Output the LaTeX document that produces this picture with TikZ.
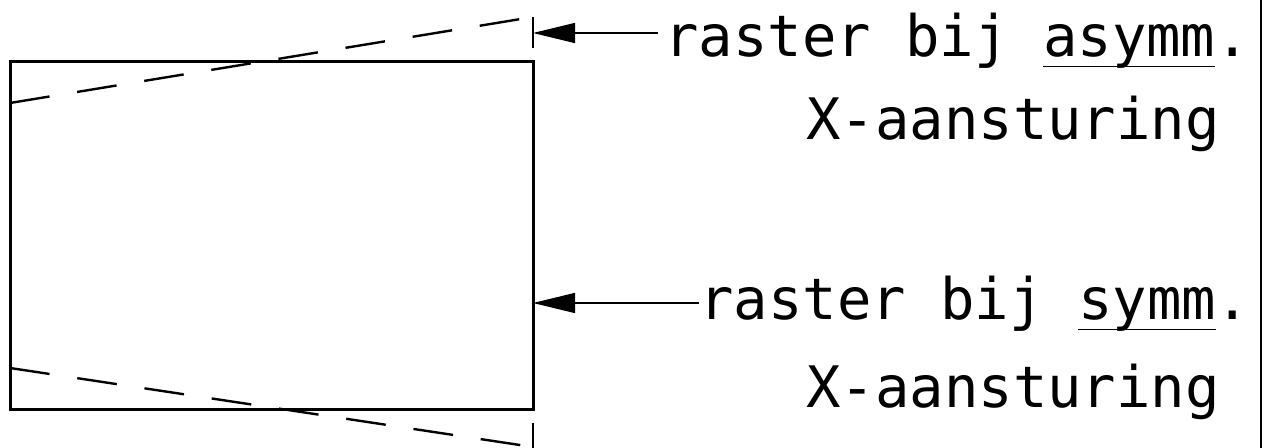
\documentclass[tikz,border=0pt]{standalone}
\usepackage{fontspec}
\newfontfamily\plotterfont{DejaVu Sans Mono}
\usepackage{tikz}
\usetikzlibrary{arrows.meta}
\newcommand{\ulword}[1]{\setbox0\hbox{#1}\rlap{\rule[-5pt]{\wd0}{0.6pt}}\box0}

\begin{document}
\begin{tikzpicture}[x=0.5pt,y=-0.5pt,
  frame/.style={line width=1.5pt},
  scanline/.style={line width=1.2pt,dash pattern=on 20pt off 14pt},
  pointer/.style={-{Triangle[length=21pt,width=10pt]},line width=0.7pt},
  caption/.style={font=\plotterfont\fontsize{28.6}{34}\selectfont,inner sep=0pt,anchor=base west}]
  \useasboundingbox (0,0) rectangle (1264,448);
  % beeldvlak
  \draw[frame] (10,62) rectangle (533,410);
  % raster bij asymm. aansturing
  \draw[scanline] (10,103) -- (533,17);
  \draw[line width=1pt] (533,17) -- (533,48);
  \draw[scanline] (10,368) -- (533,447);
  \draw[line width=1pt] (533,423) -- (533,448);
  % rechterrand
  \draw[line width=1pt] (1261,0) -- (1261,448);
  % teksten
  \coordinate (tipasym) at (533,33);
  \coordinate (tipsym) at (533,303);
  \node[caption] (asym) at (664,57) {raster bij \ulword{asymm}.};
  \node[caption] (asymx) at (806,140) {X-aansturing};
  \node[caption] (sym) at (699,320) {raster bij \ulword{symm}.};
  \node[caption] (symx) at (806,408) {X-aansturing};
  \draw[pointer,shorten <=3pt] (asym.base west |- tipasym) -- (tipasym);
  \draw[pointer] (sym.base west |- tipsym) -- (tipsym);
\end{tikzpicture}
\end{document}
